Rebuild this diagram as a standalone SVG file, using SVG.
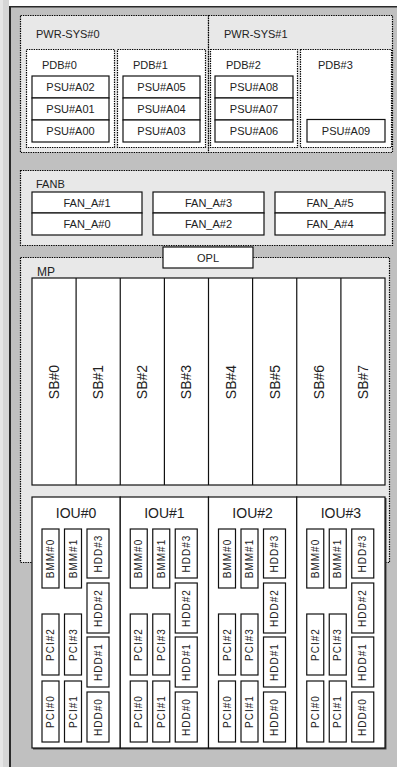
<svg xmlns="http://www.w3.org/2000/svg" width="397" height="767" viewBox="0 0 397 767">
<style>
.t{font-family:"Liberation Sans",Arial,sans-serif;font-size:11px;fill:#222}
.c{text-anchor:middle}
.sys{fill:#e8e8e8;stroke:#000;stroke-width:1.2;stroke-dasharray:1.4 1}
.pdb{fill:#fff;stroke:#000;stroke-width:1.2;stroke-dasharray:1.4 1}
.box{fill:#fff;stroke:#111;stroke-width:1.2}
.v{font-family:"Liberation Sans",Arial,sans-serif;font-size:10px;letter-spacing:1px;text-anchor:middle;fill:#222}
.sb{font-family:"Liberation Sans",Arial,sans-serif;font-size:14px;text-anchor:middle;fill:#222}
.iou{font-family:"Liberation Sans",Arial,sans-serif;font-size:14px;text-anchor:middle;fill:#222}
</style>
<defs>
<g id="iouParts">
  <rect class="box" x="10" y="32" width="17" height="59"/>
  <rect class="box" x="32.5" y="32" width="17" height="59"/>
  <rect class="box" x="55" y="32" width="22" height="49"/>
  <rect class="box" x="55" y="86" width="22" height="50"/>
  <rect class="box" x="55" y="140" width="22" height="50"/>
  <rect class="box" x="55" y="195" width="22" height="50"/>
  <rect class="box" x="10" y="117" width="17" height="61"/>
  <rect class="box" x="32.5" y="117" width="17" height="61"/>
  <rect class="box" x="10" y="184" width="17" height="61"/>
  <rect class="box" x="32.5" y="184" width="17" height="61"/>
  <text class="v" transform="translate(18.5,61.5) rotate(-90)" dy="3.5">BMM#0</text>
  <text class="v" transform="translate(41,61.5) rotate(-90)" dy="3.5">BMM#1</text>
  <text class="v" transform="translate(66,56.5) rotate(-90)" dy="3.5">HDD#3</text>
  <text class="v" transform="translate(66,111) rotate(-90)" dy="3.5">HDD#2</text>
  <text class="v" transform="translate(66,165) rotate(-90)" dy="3.5">HDD#1</text>
  <text class="v" transform="translate(66,220) rotate(-90)" dy="3.5">HDD#0</text>
  <text class="v" transform="translate(18.5,147.5) rotate(-90)" dy="3.5">PCI#2</text>
  <text class="v" transform="translate(41,147.5) rotate(-90)" dy="3.5">PCI#3</text>
  <text class="v" transform="translate(18.5,214.5) rotate(-90)" dy="3.5">PCI#0</text>
  <text class="v" transform="translate(41,214.5) rotate(-90)" dy="3.5">PCI#1</text>
</g>
</defs>
<!-- frame -->
<rect x="0" y="0" width="397" height="767" fill="#fff"/>
<rect x="0" y="0" width="9" height="767" fill="#d6d6d6"/>
<rect x="0" y="0" width="3" height="767" fill="#e6e6e6"/>
<rect x="11" y="7" width="386" height="760" fill="#c0c0c0"/>
<rect x="9" y="6" width="2" height="761" fill="#2a2a2a"/>
<rect x="9" y="6" width="388" height="1.5" fill="#2a2a2a"/>

<g id="pwr-sys0">
  <rect class="sys" x="20.5" y="15.5" width="188" height="137"/>
  <text class="t" x="36" y="38">PWR-SYS#0</text>
</g>
<g id="pwr-sys1">
  <rect class="sys" x="208.5" y="15.5" width="184" height="137"/>
  <text class="t" x="224" y="38">PWR-SYS#1</text>
</g>
<g id="pdb0">
  <rect class="pdb" x="26.5" y="49.5" width="88" height="98"/>
  <text class="t" x="42" y="69">PDB#0</text>
</g>
<g id="pdb1">
  <rect class="pdb" x="117.5" y="49.5" width="88" height="98"/>
  <text class="t" x="133" y="69">PDB#1</text>
</g>
<g id="pdb2">
  <rect class="pdb" x="210.5" y="49.5" width="87" height="98"/>
  <text class="t" x="226" y="69">PDB#2</text>
</g>
<g id="pdb3">
  <rect class="pdb" x="300.5" y="49.5" width="91" height="98"/>
  <text class="t" x="318" y="69">PDB#3</text>
</g>
<g id="psu-a02"><rect class="box" x="32" y="76" width="77" height="22"/><text class="t c" x="70.5" y="91">PSU#A02</text></g>
<g id="psu-a01"><rect class="box" x="32" y="98" width="77" height="22"/><text class="t c" x="70.5" y="113">PSU#A01</text></g>
<g id="psu-a00"><rect class="box" x="32" y="120" width="77" height="22"/><text class="t c" x="70.5" y="135">PSU#A00</text></g>
<g id="psu-a05"><rect class="box" x="123" y="76" width="77" height="22"/><text class="t c" x="161.5" y="91">PSU#A05</text></g>
<g id="psu-a04"><rect class="box" x="123" y="98" width="77" height="22"/><text class="t c" x="161.5" y="113">PSU#A04</text></g>
<g id="psu-a03"><rect class="box" x="123" y="120" width="77" height="22"/><text class="t c" x="161.5" y="135">PSU#A03</text></g>
<g id="psu-a08"><rect class="box" x="215" y="76" width="78" height="22"/><text class="t c" x="254" y="91">PSU#A08</text></g>
<g id="psu-a07"><rect class="box" x="215" y="98" width="78" height="22"/><text class="t c" x="254" y="113">PSU#A07</text></g>
<g id="psu-a06"><rect class="box" x="215" y="120" width="78" height="22"/><text class="t c" x="254" y="135">PSU#A06</text></g>
<g id="psu-a09"><rect class="box" x="307" y="119.5" width="78" height="22.5"/><text class="t c" x="346" y="135">PSU#A09</text></g>

<g id="fanb">
  <rect class="sys" x="20.5" y="170.5" width="372" height="75"/>
  <text class="t" x="36" y="188">FANB</text>
</g>
<g id="fan-a1"><rect class="box" x="32" y="192" width="110" height="21"/><text class="t c" x="87" y="206.5">FAN_A#1</text></g>
<g id="fan-a0"><rect class="box" x="32" y="213" width="110" height="22"/><text class="t c" x="87" y="228">FAN_A#0</text></g>
<g id="fan-a3"><rect class="box" x="153" y="192" width="111" height="21"/><text class="t c" x="208.5" y="206.5">FAN_A#3</text></g>
<g id="fan-a2"><rect class="box" x="153" y="213" width="111" height="22"/><text class="t c" x="208.5" y="228">FAN_A#2</text></g>
<g id="fan-a5"><rect class="box" x="275" y="192" width="110" height="21"/><text class="t c" x="330" y="206.5">FAN_A#5</text></g>
<g id="fan-a4"><rect class="box" x="275" y="213" width="110" height="22"/><text class="t c" x="330" y="228">FAN_A#4</text></g>

<g id="mp">
  <rect class="sys" x="20.5" y="257.5" width="369" height="305"/>
  <text class="t" x="37" y="276" style="font-size:12px">MP</text>
</g>
<g id="opl"><rect class="box" x="163" y="247" width="90" height="21"/><text class="t c" x="208" y="262">OPL</text></g>

<g id="sb-boards">
  <rect class="box" x="32" y="278" width="353" height="207"/>
</g>
<g id="connectors" stroke="#111" stroke-width="1.2">
  <line x1="76.1" y1="278" x2="76.1" y2="485"/>
  <line x1="120.25" y1="278" x2="120.25" y2="485"/>
  <line x1="164.4" y1="278" x2="164.4" y2="485"/>
  <line x1="208.5" y1="278" x2="208.5" y2="485"/>
  <line x1="252.6" y1="278" x2="252.6" y2="485"/>
  <line x1="296.75" y1="278" x2="296.75" y2="485"/>
  <line x1="340.9" y1="278" x2="340.9" y2="485"/>
</g>
<g id="sb0"><text class="sb" transform="translate(54,382) rotate(-90)" dy="5">SB#0</text></g>
<g id="sb1"><text class="sb" transform="translate(98.2,382) rotate(-90)" dy="5">SB#1</text></g>
<g id="sb2"><text class="sb" transform="translate(142.3,382) rotate(-90)" dy="5">SB#2</text></g>
<g id="sb3"><text class="sb" transform="translate(186.4,382) rotate(-90)" dy="5">SB#3</text></g>
<g id="sb4"><text class="sb" transform="translate(230.5,382) rotate(-90)" dy="5">SB#4</text></g>
<g id="sb5"><text class="sb" transform="translate(274.7,382) rotate(-90)" dy="5">SB#5</text></g>
<g id="sb6"><text class="sb" transform="translate(318.8,382) rotate(-90)" dy="5">SB#6</text></g>
<g id="sb7"><text class="sb" transform="translate(363,382) rotate(-90)" dy="5">SB#7</text></g>

<rect x="33" y="498" width="353.5" height="251.5" fill="#444"/>
<g id="iou0">
  <rect class="box" x="32" y="497" width="88.25" height="251"/>
  <text class="iou" x="76" y="518">IOU#0</text>
  <use href="#iouParts" transform="translate(32,497)"/>
</g>
<g id="iou1">
  <rect class="box" x="120.25" y="497" width="88.25" height="251"/>
  <text class="iou" x="164.4" y="518">IOU#1</text>
  <use href="#iouParts" transform="translate(120.25,497)"/>
</g>
<g id="iou2">
  <rect class="box" x="208.5" y="497" width="88.25" height="251"/>
  <text class="iou" x="252.6" y="518">IOU#2</text>
  <use href="#iouParts" transform="translate(208.5,497)"/>
</g>
<g id="iou3">
  <rect class="box" x="296.75" y="497" width="88.25" height="251"/>
  <text class="iou" x="340.9" y="518">IOU#3</text>
  <use href="#iouParts" transform="translate(296.75,497)"/>
</g>
</svg>
